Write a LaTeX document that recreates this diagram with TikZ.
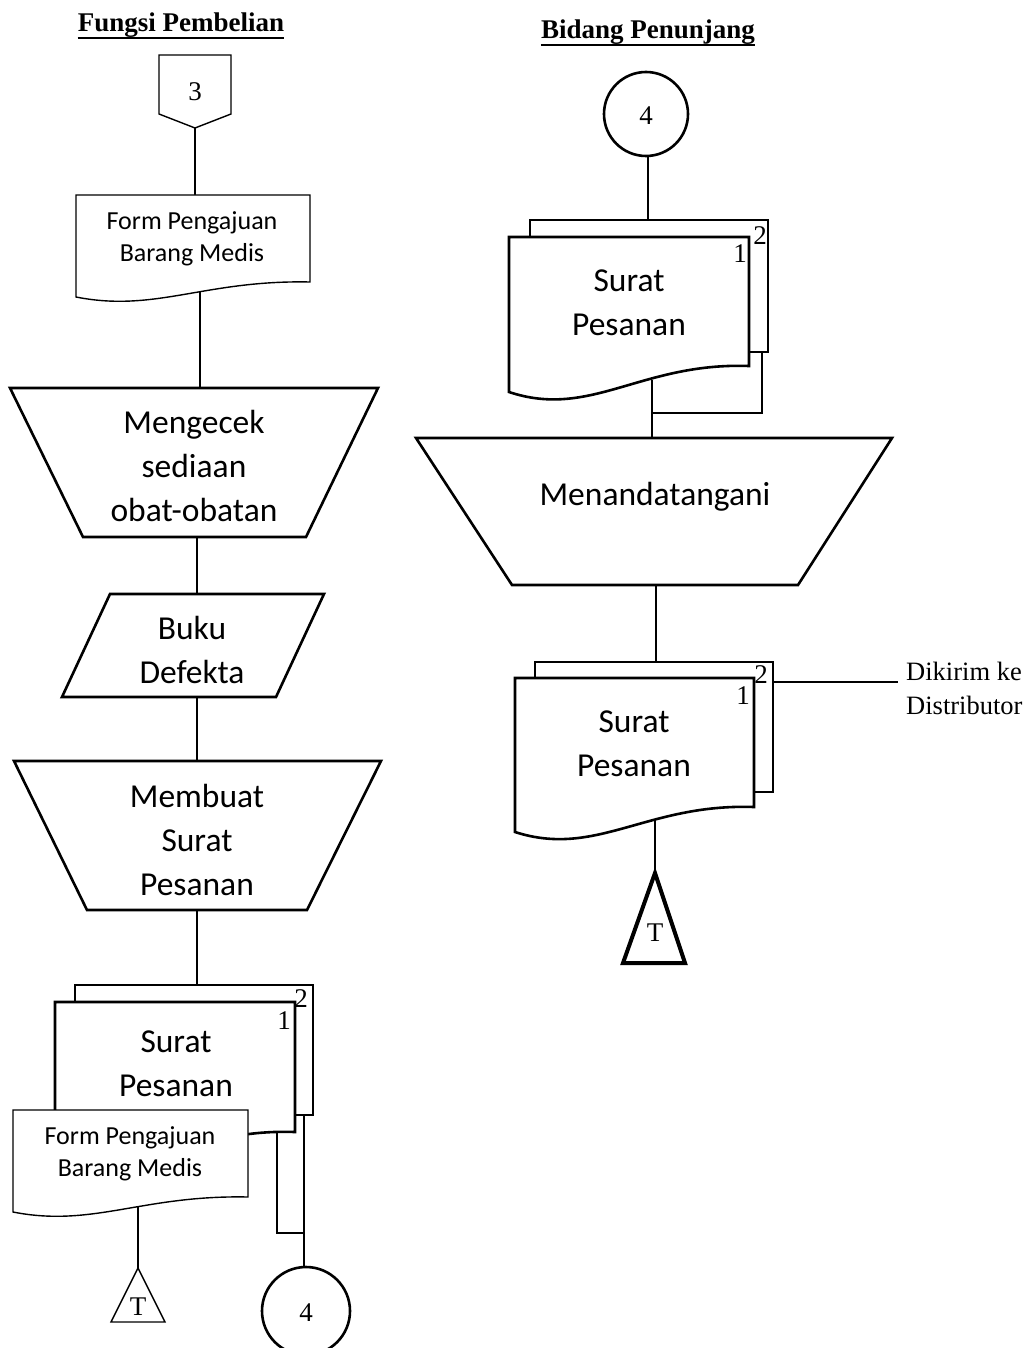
\documentclass[tikz,border=0pt]{standalone}
\usepackage{fontspec}
\setmainfont{Liberation Serif}
\newfontfamily\calib{Carlito}

% document symbol: top-left (#2,#3), right side ends at (#4,#5), left side ends at #6
\newcommand\docshape[6]{%
  \draw[#1, fill=white] (#2,#3) -- (#4,#3) -- (#4,#5)
    .. controls ({#2+0.55*(#4-#2)},{#5-0.15*(#6-#5)}) and ({#2+0.34*(#4-#2)},{#6+1.05*(#6-#5)}) .. (#2,#6) -- cycle;}

\begin{document}
\begin{tikzpicture}[x=1pt,y=-1pt,
  conn/.style={line width=1.4pt},
  thick shape/.style={line width=2.6pt, line join=miter},
  thin shape/.style={line width=1.4pt, line join=miter},
  bigtext/.style={font=\calib\fontsize{33.5}{44}\selectfont, align=center, inner sep=0pt},
  formtext/.style={font=\calib\fontsize{26}{32}\selectfont, align=center, inner sep=0pt},
  serifnum/.style={font=\fontsize{27}{30}\selectfont, inner sep=0pt},
  title/.style={font=\bfseries\fontsize{27}{32}\selectfont, inner sep=0pt, anchor=base},
  titlerule/.style={line width=2.6pt},
]
\useasboundingbox (0,0) rectangle (1027,1348);

% ---------- connection points ----------
% Fungsi Pembelian
\coordinate (opB) at (195,128);
\coordinate (f1T) at (195,197);
\coordinate (f1B) at (200,290);
\coordinate (t1T) at (200,390);
\coordinate (t1B) at (197,535);
\coordinate (pT) at (197,596);
\coordinate (pB) at (197,695);
\coordinate (t2T) at (197,763);
\coordinate (t2B) at (197,908);
\coordinate (s1T) at (197,988);
\coordinate (s1a) at (277,1125);
\coordinate (s1j) at (277,1233);
\coordinate (s1b) at (304,1110);
\coordinate (s1k) at (304,1233);
\coordinate (c4T) at (304,1268);
\coordinate (f2B) at (138,1205);
\coordinate (trLT) at (138,1268);
% Bidang Penunjang
\coordinate (c4rB) at (648,155);
\coordinate (s2T) at (648,222);
\coordinate (s2a) at (652,380);
\coordinate (s2b) at (762,345);
\coordinate (s2j) at (762,413);
\coordinate (s2k) at (652,413);
\coordinate (t3T) at (652,440);
\coordinate (t3B) at (656,583);
\coordinate (s3T) at (656,664);
\coordinate (s3R) at (770,682);
\coordinate (dist) at (898,682);
\coordinate (s3B) at (655,820);
\coordinate (trRT) at (655,873);

% ---------- connectors ----------
\draw[conn] (opB) -- (f1T);
\draw[conn] (f1B) -- (t1T);
\draw[conn] (t1B) -- (pT);
\draw[conn] (pB) -- (t2T);
\draw[conn] (t2B) -- (s1T);
\draw[conn] (s1a) -- (s1j) -- (s1k);
\draw[conn] (s1b) -- (c4T);
\draw[conn] (f2B) -- (trLT);
\draw[conn] (c4rB) -- (s2T);
\draw[conn] (s2a) -- (t3T);
\draw[conn] (s2b) -- (s2j) -- (s2k);
\draw[conn] (t3B) -- (s3T);
\draw[conn] (s3R) -- (dist);
\draw[conn] (s3B) -- (trRT);

% ---------- Fungsi Pembelian ----------
\node[title] (titleL) at (181,32) {Fungsi Pembelian};
\draw[titlerule] ([yshift=-6pt]titleL.base west) -- ([yshift=-6pt]titleL.base east);

\draw[thin shape, fill=white] (159,55) -- (231,55) -- (231,114) -- (opB) -- (159,114) -- cycle;
\node[serifnum] (n3) at (195,92) {3};

\docshape{thin shape}{76}{195}{310}{282}{297}
\node[formtext] (form1) at (192,239) {Form Pengajuan\\Barang Medis};

\draw[thick shape, fill=white] (10,388) -- (378,388) -- (306,537) -- (83,537) -- cycle;
\node[bigtext] (cek) at (194,466) {Mengecek\\sediaan\\obat-obatan};

\draw[thick shape, fill=white] (110,594) -- (324,594) -- (276,697) -- (62,697) -- cycle;
\node[bigtext] (buku) at (192,650) {Buku\\Defekta};

\draw[thick shape, fill=white] (14,761) -- (381,761) -- (307,910) -- (87,910) -- cycle;
\node[bigtext] (buat) at (197,840) {Membuat\\Surat\\Pesanan};

\draw[thick shape, fill=white] (75,985) rectangle (313,1115);
\docshape{thick shape}{55}{1002}{295}{1132}{1158}
\node[serifnum] (L2) at (301,999) {2};
\node[serifnum] (L1) at (284,1021) {1};
\node[bigtext] (spL) at (176,1064) {Surat\\Pesanan};

\docshape{thin shape}{13}{1110}{248}{1197}{1212}
\node[formtext] (form2) at (130,1154) {Form Pengajuan\\Barang Medis};

\draw[thin shape, fill=white] (trLT) -- (165,1322) -- (111,1322) -- cycle;
\node[serifnum] (tL) at (138,1307) {T};

\draw[thick shape, fill=white] (306,1311) circle (44);
\node[serifnum] (n4L) at (306,1313) {4};

% ---------- Bidang Penunjang ----------
\node[title] (titleR) at (648,39) {Bidang Penunjang};
\draw[titlerule] ([yshift=-6pt]titleR.base west) -- ([yshift=-6pt]titleR.base east);

\draw[thick shape, fill=white] (646,114) circle (42);
\node[serifnum] (n4R) at (646,116) {4};

\draw[thick shape, fill=white] (530,220) rectangle (768,352);
\docshape{thick shape}{509}{237}{749}{366}{392}
\node[serifnum] (R2a) at (760,236) {2};
\node[serifnum] (R1a) at (740,254) {1};
\node[bigtext] (spR1) at (629,303) {Surat\\Pesanan};

\draw[thick shape, fill=white] (416,438) -- (892,438) -- (798,585) -- (512,585) -- cycle;
\node[bigtext] (ttd) at (655,497) {Menandatangani};

\draw[thick shape, fill=white] (535,662) rectangle (773,792);
\docshape{thick shape}{515}{678}{754}{807}{832}
\node[serifnum] (R2b) at (761,675) {2};
\node[serifnum] (R1b) at (743,696) {1};
\node[bigtext] (spR2) at (634,744) {Surat\\Pesanan};

\node[font=\fontsize{26.5}{34}\selectfont, align=left, inner sep=0pt, anchor=west] (kirim) at (906,688) {Dikirim ke\\Distributor};

\draw[line width=4pt, line join=miter, fill=white] (trRT) -- (685,963) -- (623,963) -- cycle;
\node[serifnum] (tR) at (655,933) {T};

\end{tikzpicture}
\end{document}
